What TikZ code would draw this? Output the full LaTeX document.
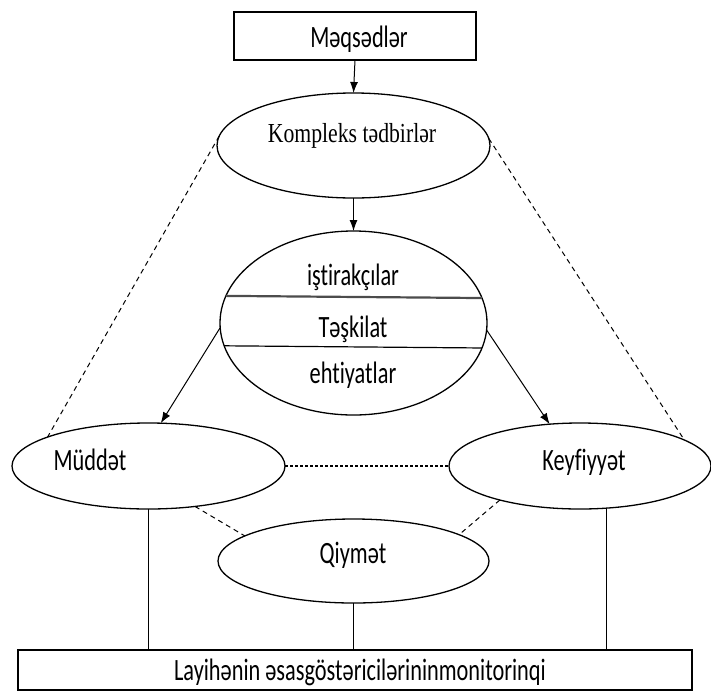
\documentclass[tikz,border=0pt]{standalone}
\usepackage{fontspec}
\usetikzlibrary{shapes.geometric,arrows.meta}
\newfontfamily\calf[FakeStretch=0.72,Ligatures=NoCommon]{Carlito}
\newfontfamily\timesf[FakeStretch=0.79]{Liberation Serif}
\tikzset{
  box/.style={draw,line width=1.3pt,rectangle,inner sep=0pt,outer sep=0pt},
  ell/.style={draw,line width=1.3pt,ellipse,inner sep=0pt,outer sep=0pt},
  lbl/.style={anchor=base,inner sep=0pt,font=\calf\fontsize{31}{31}\selectfont},
  arr/.style={line width=1pt,-{Latex[length=11pt,width=8pt]}},
  dsh/.style={line width=1pt,dash pattern=on 5pt off 4pt},
  dts/.style={line width=1.2pt,dash pattern=on 3pt off 2pt},
  solid line/.style={line width=0.8pt}
}
\begin{document}
\begin{tikzpicture}[x=1pt,y=-1pt]
\path[use as bounding box] (0,0) rectangle (711,699);
% boxes and ellipses
\node[box,minimum width=242pt,minimum height=48pt] (goal) at (355,36) {};
\node[ell,minimum width=273pt,minimum height=105pt] (komp) at (353.5,145.5) {};
\node[ell,minimum width=267pt,minimum height=184pt] (mid) at (353.5,323) {};
\node[ell,minimum width=273pt,minimum height=86pt] (mud) at (148.5,466) {};
\node[ell,minimum width=262pt,minimum height=86pt] (key) at (580,466) {};
\node[ell,minimum width=271pt,minimum height=84pt] (qiy) at (353.5,561) {};
\node[box,minimum width=674pt,minimum height=40pt] (bot) at (355,670) {};
% texts
\node[lbl] (tgoal) at (359,47) {Məqsədlər};
\node[anchor=base,inner sep=0pt,font=\timesf\fontsize{27.5}{27.5}\selectfont] (tkomp) at (352,142) {Kompleks tədbirlər};
\node[lbl] (t1) at (353,285) {iştirakçılar};
\node[lbl] (t2) at (353,337) {Təşkilat};
\node[lbl] (t3) at (353,383) {ehtiyatlar};
\node[lbl] (tmud) at (90,470) {Müddət};
\node[lbl] (tkey) at (584,470) {Keyfiyyət};
\node[lbl] (tqiy) at (353,563) {Qiymət};
\node[lbl] (tbot) at (360,680) {Layihənin əsasgöstəricilərininmonitorinqi};
% lines inside the middle ellipse
\draw[line width=2.2pt,black!70] (mid.168.5) -- (mid.11.5);
\draw[line width=1.2pt] (mid.190.1) -- (mid.349.9);
% arrows
\draw[arr] (goal.south) -- (komp.north);
\draw[arr] (komp.south) -- (mid.north);
\draw[arr] (mid.182) -- (mud.74.3);
\draw[arr] (mid.357) -- (key.126.2);
% dashed connectors
\draw[dsh] (komp.176.4) -- (mud.164.4);
\draw[dsh] (komp.3.1) -- (key.14.3);
\draw[dsh] (mud.319.8) -- (qiy.167.8);
\draw[dsh] (key.203.7) -- (qiy.14.5);
\draw[dts] (mud.east) -- (key.west);
% solid verticals to the bottom box
\draw[solid line] (mud.south) -- (mud.south |- bot.north);
\draw[solid line] (qiy.south) -- (qiy.south |- bot.north);
\draw[solid line] (key.302.7) -- (key.302.7 |- bot.north);
\end{tikzpicture}
\end{document}
